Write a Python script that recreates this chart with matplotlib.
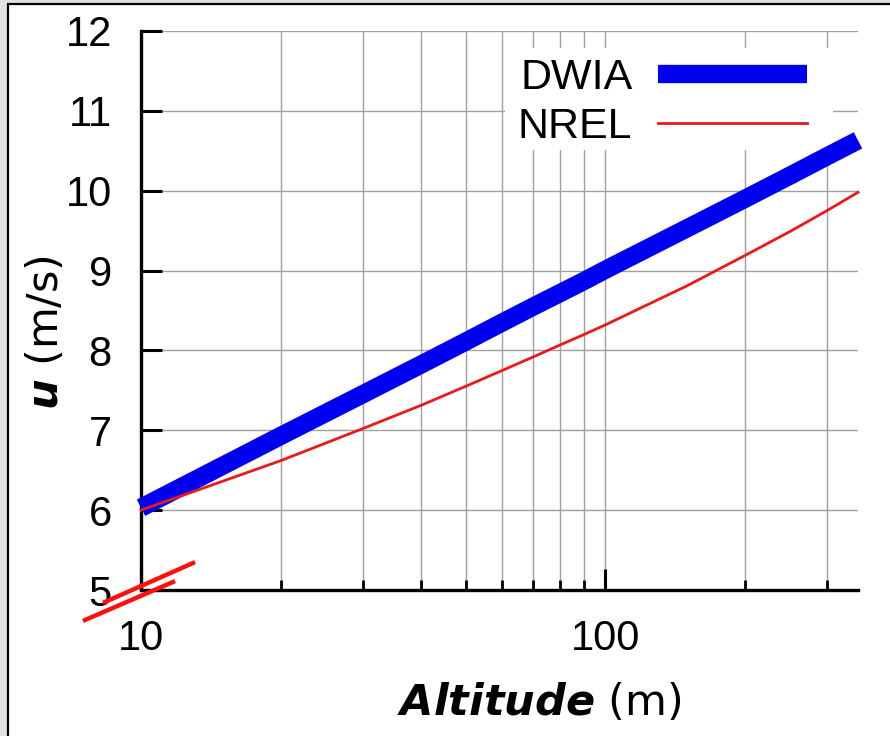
import matplotlib
matplotlib.use("Agg")
import matplotlib.pyplot as plt
from matplotlib.lines import Line2D
from matplotlib.patches import Rectangle
from matplotlib.ticker import FixedLocator, NullFormatter

# values
altitude = [10, 20, 30, 40, 50, 60, 70, 80, 90, 100, 150, 200, 250, 300, 350]
dwia = [6.03, 6.93, 7.45, 7.82, 8.11, 8.35, 8.55, 8.72, 8.87, 9.01,
        9.53, 9.90, 10.19, 10.43, 10.63]
nrel = [6.00, 6.62, 7.02, 7.31, 7.55, 7.75, 7.92, 8.07, 8.20, 8.32,
        8.81, 9.19, 9.49, 9.75, 9.98]

y_ticks = [5, 6, 7, 8, 9, 10, 11, 12]
x_major = [10, 100]
x_minor = [20, 30, 40, 50, 60, 70, 80, 90, 200, 300]

W, H = 890, 736
AX_L, AX_R, AX_T, AX_B = 141, 858, 31, 590


def px(x, y):
    # figure pixel -> figure fraction
    return x / W, 1 - y / H


def axfrac(x, y):
    # figure pixel -> axes fraction
    return (x - AX_L) / (AX_R - AX_L), (AX_B - y) / (AX_B - AX_T)


def main():
    plt.rcParams["mathtext.fontset"] = "dejavusans"

    fig = plt.figure(figsize=(W / 100, H / 100), dpi=100)
    fig.patch.set_facecolor("#e2e2e2")

    # white page with black frame
    fig.add_artist(Rectangle(px(8, 760), 900 / W, 756 / H, transform=fig.transFigure,
                             facecolor="white", edgecolor="black", linewidth=1.6, zorder=-5))

    left, right = px(AX_L, 0)[0], px(AX_R, 0)[0]
    bottom, top = px(0, AX_B)[1], px(0, AX_T)[1]
    ax = fig.add_axes([left, bottom, right - left, top - bottom])
    ax.set_facecolor("white")

    ax.plot(altitude, dwia, color="#0000f0", lw=13.2, solid_capstyle="butt",
            label="DWIA", clip_on=False, zorder=3)
    ax.plot(altitude, nrel, color="#ea1a1a", lw=2.0, label="NREL",
            clip_on=False, zorder=4)

    ax.set_xscale("log")
    ax.set_xlim(10, 350)
    ax.set_ylim(5, 12)

    ax.xaxis.set_major_locator(FixedLocator(x_major))
    ax.xaxis.set_minor_locator(FixedLocator(x_minor))
    ax.xaxis.set_minor_formatter(NullFormatter())
    ax.set_xticklabels([str(v) for v in x_major])
    ax.set_yticks(y_ticks)
    ax.set_yticklabels([str(v) for v in y_ticks])

    for lab in ax.get_xticklabels() + ax.get_yticklabels():
        lab.set_fontfamily("Liberation Sans")
        lab.set_fontsize(30)

    ax.tick_params(axis="both", which="major", direction="in", length=15,
                   width=2.2, pad=21, color="black")
    ax.tick_params(axis="x", which="minor", direction="in", length=7,
                   width=2.0, color="black")
    ax.tick_params(top=False, right=False)

    ax.grid(True, which="major", color="#a0a0a0", lw=1.0)
    ax.grid(True, which="minor", axis="x", color="#a0a0a0", lw=1.0)
    ax.set_axisbelow(True)

    for side in ["top", "right"]:
        ax.spines[side].set_visible(False)
    for side in ["left", "bottom"]:
        ax.spines[side].set_linewidth(2.4)
        ax.spines[side].set_color("black")

    ax.set_xlabel(r"$\mathbfit{Altitude}$ (m)", fontsize=31, fontfamily="DejaVu Sans")
    ax.set_ylabel(r"$\mathbfit{u}$ (m/s)", fontsize=31, fontfamily="DejaVu Sans")
    ax.xaxis.set_label_coords(*axfrac(539, 682))
    ax.yaxis.set_label_coords(*axfrac(67, 333))

    # white patch behind the key, hiding the grid there
    x0, y0 = axfrac(505, 150)
    x1, y1 = axfrac(833, 48)
    ax.add_patch(Rectangle((x0, y0), x1 - x0, y1 - y0, transform=ax.transAxes,
                           facecolor="white", edgecolor="none", zorder=2))

    leg = ax.legend(loc="upper right", bbox_to_anchor=axfrac(811, 54),
                    markerfirst=False, frameon=False, borderpad=0.1, borderaxespad=0.0,
                    labelspacing=0.2, handlelength=3.45, handletextpad=0.6,
                    prop={"family": "Liberation Sans", "size": 31})
    leg.set_zorder(2.5)

    # axis break marks
    fig.add_artist(Line2D([px(105, 602)[0], px(193, 563)[0]], [px(105, 602)[1], px(193, 563)[1]],
                          transform=fig.transFigure, color="#ff1010", lw=3.2))
    fig.add_artist(Line2D([px(85, 620)[0], px(173, 582)[0]], [px(85, 620)[1], px(173, 582)[1]],
                          transform=fig.transFigure, color="#ff1010", lw=3.2))

    fig.savefig("out.png", dpi=100, facecolor=fig.get_facecolor())


if __name__ == "__main__":
    main()
